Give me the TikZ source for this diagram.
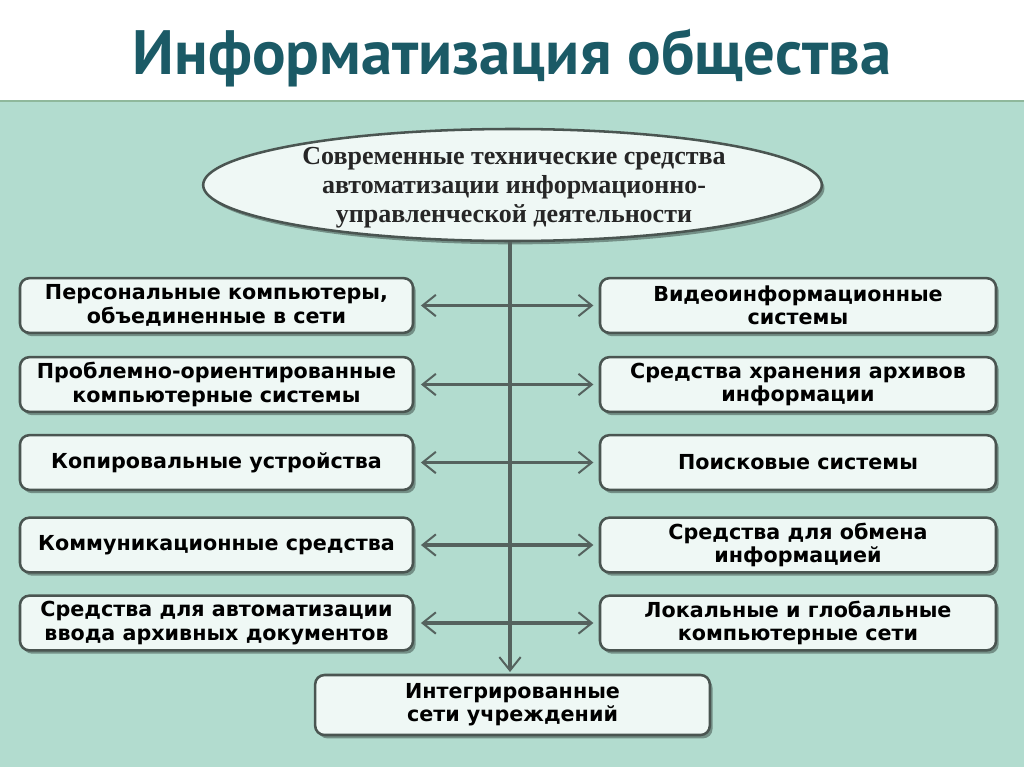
\documentclass[tikz,border=0pt]{standalone}
\usepackage{fontspec}
\setmainfont{DejaVu Sans}
\newfontfamily\boxfont{DejaVu Sans}
\newfontfamily\ellfont{Liberation Serif}
\newfontfamily\titlefont{PT Sans}
\usetikzlibrary{arrows.meta,shadows,shapes.geometric}
\definecolor{panel}{HTML}{B2DCCF}
\definecolor{paneledge}{HTML}{8FB89C}
\definecolor{boxfill}{HTML}{EFF8F5}
\definecolor{boxline}{HTML}{4A5551}
\definecolor{arrowline}{HTML}{55625E}
\definecolor{titlecol}{HTML}{1B5A66}
\begin{document}
\begin{tikzpicture}[x=0.75pt,y=-0.75pt,
  itembox/.style={draw=boxline, line width=1.9pt, fill=boxfill, rounded corners=7pt,
    minimum height=41pt, align=center, inner sep=0pt,
    font=\boxfont\bfseries\fontsize{15.5}{17.5}\selectfont,
    drop shadow={shadow xshift=2pt, shadow yshift=-2.5pt, fill=black, opacity=0.35}},
  leftbox/.style={itembox, minimum width=294.75pt},
  rightbox/.style={itembox, minimum width=297pt},
  link/.style={draw=arrowline, line width=2.8pt, {Straight Barb[length=10pt,width=16pt,line width=1.5pt]}-{Straight Barb[length=10pt,width=16pt,line width=1.5pt]}, shorten <=5pt, shorten >=4pt},
  trunk/.style={draw=arrowline, line width=2.8pt, -{Straight Barb[length=10pt,width=16pt,line width=1.5pt]}}
]
\useasboundingbox (0,0) rectangle (1024,767);
\fill[white] (0,0) rectangle (1024,100);
\fill[panel] (0,100) rectangle (1024,767);
\draw[paneledge, line width=2pt] (0,101) -- (1024,101);

% title
\node[text=titlecol, font=\titlefont\bfseries\fontsize{47}{50}\selectfont] (title) at (512,58) {Информатизация общества};

% ellipse
\node[ellipse, draw=boxline, line width=1.9pt, fill=boxfill, minimum width=464pt, minimum height=84pt, inner sep=0pt,
  drop shadow={shadow xshift=2pt, shadow yshift=-2.5pt, fill=black, opacity=0.35}] (ell) at (512.5,185) {};
\node[align=center, font=\ellfont\bfseries\fontsize{19.5}{21.75}\selectfont, text=black!85] (elltext) at (514,188)
  {Современные технические средства\\автоматизации информационно-\\управленческой деятельности};

% left boxes
\node[leftbox] (L1) at (216.5,305.5) {Персональные компьютеры,\\объединенные в сети};
\node[leftbox] (L2) at (216.5,384.5) {Проблемно-ориентированные\\компьютерные системы};
\node[leftbox] (L3) at (216.5,462.5) {Копировальные устройства};
\node[leftbox] (L4) at (216.5,545) {Коммуникационные средства};
\node[leftbox] (L5) at (216.5,623) {Средства для автоматизации\\ввода архивных документов};

% right boxes
\node[rightbox] (R1) at (798,305.5) {Видеоинформационные\\системы};
\node[rightbox] (R2) at (798,384.5) {Средства хранения архивов\\информации};
\node[rightbox] (R3) at (798,462.5) {Поисковые системы};
\node[rightbox] (R4) at (798,545) {Средства для обмена\\информацией};
\node[rightbox] (R5) at (798,623) {Локальные и глобальные\\компьютерные сети};

% bottom box
\node[itembox, minimum width=296pt, minimum height=45pt] (B) at (512.5,705) {Интегрированные\\сети учреждений};

% trunk
\coordinate (bot) at (510,672);
\draw[trunk] (ell.south -| bot) -- (bot);

% links
\draw[link] (L1.east) -- (R1.west);
\draw[link] (L2.east) -- (R2.west);
\draw[link] (L3.east) -- (R3.west);
\draw[link] (L4.east) -- (R4.west);
\draw[link] (L5.east) -- (R5.west);
\end{tikzpicture}
\end{document}
